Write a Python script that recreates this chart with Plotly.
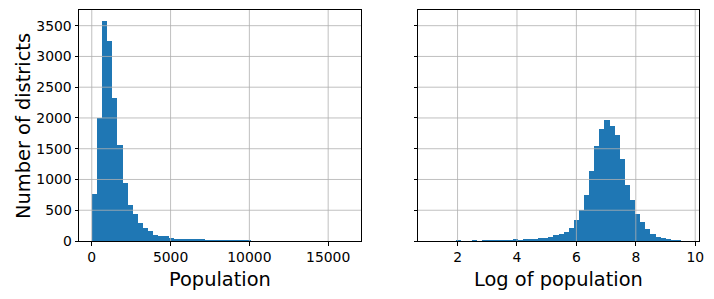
import numpy as np
import plotly.graph_objects as go

# ---- data ----
pop_min = 3
pop_max = 16270
n_bins = 50

pop_counts = [769, 2005, 3576, 3251, 2324, 1560, 948, 585, 439, 298,
              215, 165, 98, 81, 81, 45, 35, 18, 18, 30,
              18, 30, 12, 12, 12, 8, 8, 14, 4, 12,
              4, 0, 0, 0, 0, 0, 0, 0, 0, 0,
              0, 0, 0, 0, 0, 0, 0, 0, 0, 0]

log_counts = [0, 0, 0, 0, 0, 10, 0, 0, 12, 0,
              8, 8, 8, 9, 10, 10, 25, 14, 18, 28,
              30, 54, 54, 70, 92, 117, 150, 217, 341, 504,
              748, 1130, 1540, 1826, 1967, 1875, 1718, 1328, 910, 660,
              445, 309, 190, 108, 70, 43, 27, 16, 14, 0]

x_ticks_left = [0, 5000, 10000, 15000]
x_ticks_right = [2, 4, 6, 8, 10]
y_ticks = [0, 500, 1000, 1500, 2000, 2500, 3000, 3500]

# ---- geometry ----
W, H = 714, 299
BLUE = "#1f77b4"
GRID = "#b0b0b0"
FONT = "DejaVu Sans"
TICK_PX = 13.9
LABEL_PX = 19.4

def bins(lo, hi):
    edges = np.linspace(lo, hi, n_bins + 1)
    centers = (edges[:-1] + edges[1:]) / 2
    width = edges[1] - edges[0]
    rng = [lo - 0.05 * (hi - lo), hi + 0.05 * (hi - lo)]
    return centers, width, rng

c1, w1, r1 = bins(pop_min, pop_max)
c2, w2, r2 = bins(np.log(pop_min), np.log(pop_max))
ymax = max(max(pop_counts), max(log_counts)) * 1.05

fig = go.Figure()
fig.add_trace(go.Bar(x=c1, y=pop_counts, width=w1, marker=dict(color=BLUE, line=dict(width=0)),
                     xaxis="x", yaxis="y", showlegend=False))
fig.add_trace(go.Bar(x=c2, y=log_counts, width=w2, marker=dict(color=BLUE, line=dict(width=0)),
                     xaxis="x2", yaxis="y2", showlegend=False))

# grid lines drawn above the bars (matplotlib default), generated from the tick arrays
shapes = []
for xr, yr, xt in (("x", "y", x_ticks_left), ("x2", "y2", x_ticks_right)):
    for v in xt:
        shapes.append(dict(type="line", xref=xr, yref=f"{yr} domain", x0=v, x1=v, y0=0, y1=1,
                           line=dict(color=GRID, width=0.8), layer="above"))
    for v in y_ticks[1:]:
        shapes.append(dict(type="line", xref=f"{xr} domain", yref=yr, x0=0, x1=1, y0=v, y1=v,
                           line=dict(color=GRID, width=0.8), layer="above"))

ydom = [(H - 241) / H, (H - 10) / H]
common = dict(showline=True, linecolor="black", linewidth=1, mirror=True,
              showgrid=False,
              ticks="outside", ticklen=3.5, tickwidth=0.8, tickcolor="black",
              zeroline=False, layer="above traces", automargin=False,
              tickfont=dict(family=FONT, size=TICK_PX, color="black"))

fig.update_layout(
    width=W, height=H,
    margin=dict(l=0, r=0, t=0, b=0, pad=0, autoexpand=False),
    paper_bgcolor="white", plot_bgcolor="white",
    bargap=0,
    shapes=shapes,
    xaxis=dict(domain=[79 / W, 361 / W], range=r1, tickvals=x_ticks_left,
               ticktext=[str(v) for v in x_ticks_left], anchor="y", **common),
    yaxis=dict(domain=ydom, range=[0, ymax], tickvals=y_ticks,
               ticktext=[str(v) for v in y_ticks], anchor="x", **common),
    xaxis2=dict(domain=[418 / W, 699 / W], range=r2, tickvals=x_ticks_right,
                ticktext=[str(v) for v in x_ticks_right], anchor="y2", **common),
    yaxis2=dict(domain=ydom, range=[0, ymax], tickvals=y_ticks,
                showticklabels=False, anchor="x2", **common),
    annotations=[
        dict(text="Population", x=220 / W, y=(H - 279) / H, xref="paper", yref="paper",
             showarrow=False, font=dict(family=FONT, size=LABEL_PX, color="black"),
             xanchor="center", yanchor="middle"),
        dict(text="Log of population", x=558 / W, y=(H - 279) / H, xref="paper", yref="paper",
             showarrow=False, font=dict(family=FONT, size=LABEL_PX, color="black"),
             xanchor="center", yanchor="middle"),
        dict(text="Number of districts", x=23 / W, y=(H - 126) / H, xref="paper", yref="paper",
             showarrow=False, textangle=-90, font=dict(family=FONT, size=LABEL_PX, color="black"),
             xanchor="center", yanchor="middle"),
    ],
)

fig.write_html("out.html")
